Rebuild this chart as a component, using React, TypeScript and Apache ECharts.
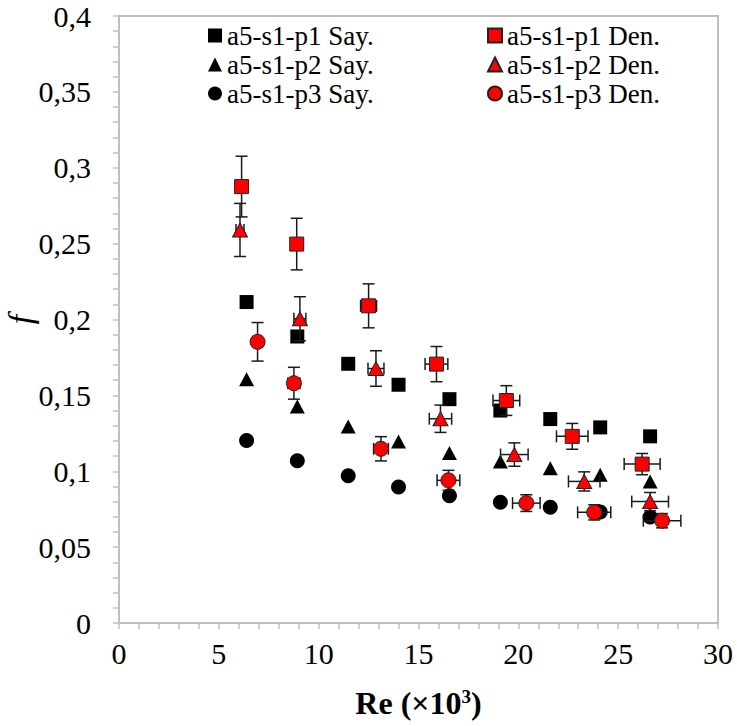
import React, { useEffect, useRef } from "react";
import * as echarts from "echarts";

const FONT = "Tinos, Liberation Serif, Times New Roman, serif";

// Sayısal (numerical) results
const sayRe = [6.39, 8.93, 11.48, 14.0, 16.55, 19.1, 21.6, 24.1, 26.6];
const p1Say = [0.2115, 0.1888, 0.1708, 0.157, 0.1475, 0.14, 0.1344, 0.1289, 0.123];
const p2Say = [0.1607, 0.1427, 0.1295, 0.1196, 0.112, 0.1065, 0.102, 0.0977, 0.0933];
const p3Say = [0.1203, 0.1069, 0.097, 0.0896, 0.0839, 0.0795, 0.0762, 0.0731, 0.0698];

// Deneysel (experimental) results with error bars
const p1DenRe = [6.14, 8.9, 12.5, 15.9, 19.4, 22.7, 26.2];
const p1Den = [0.2876, 0.2497, 0.209, 0.1706, 0.1466, 0.123, 0.1047];
const p1DenReErr = [0.2, 0.3, 0.4, 0.57, 0.67, 0.79, 0.9];
const p1DenErr = [0.02, 0.017, 0.0145, 0.0116, 0.0098, 0.0085, 0.007];

const p2DenRe = [6.06, 9.06, 12.87, 16.1, 19.8, 23.3, 26.6];
const p2Den = [0.259, 0.2005, 0.1677, 0.1346, 0.111, 0.0933, 0.08];
const p2DenReErr = [0.2, 0.3, 0.4, 0.56, 0.69, 0.79, 0.92];
const p2DenErr = [0.0175, 0.0145, 0.0117, 0.009, 0.0077, 0.0063, 0.006];

const p3DenRe = [6.94, 8.76, 13.12, 16.5, 20.4, 23.8, 27.2];
const p3Den = [0.1853, 0.158, 0.1148, 0.094, 0.079, 0.0729, 0.0674];
const p3DenReErr = [0.24, 0.3, 0.37, 0.57, 0.69, 0.83, 0.94];
const p3DenErr = [0.0127, 0.0105, 0.008, 0.0066, 0.0055, 0.005, 0.0047];

const sayNames = ["a5-s1-p1 Say.", "a5-s1-p2 Say.", "a5-s1-p3 Say."];
const denNames = ["a5-s1-p1 Den.", "a5-s1-p2 Den.", "a5-s1-p3 Den."];

const zip = (xs: number[], ys: number[]) => xs.map((x, i) => [x, ys[i]]);
const zip4 = (xs: number[], ys: number[], ex: number[], ey: number[]) =>
  xs.map((x, i) => [x, ys[i], ex[i], ey[i]]);

const CAP = 6;

function renderErr(params: any, api: any) {
  const x = api.value(0);
  const y = api.value(1);
  const ex = api.value(2);
  const ey = api.value(3);
  const top = api.coord([x, y + ey]);
  const bot = api.coord([x, y - ey]);
  const lft = api.coord([x - ex, y]);
  const rgt = api.coord([x + ex, y]);
  const style = { stroke: "#1a1a1a", lineWidth: 1.5 };
  const ln = (x1: number, y1: number, x2: number, y2: number) => ({
    type: "line",
    shape: { x1, y1, x2, y2 },
    style,
  });
  return {
    type: "group",
    children: [
      ln(top[0], top[1], bot[0], bot[1]),
      ln(top[0] - CAP, top[1], top[0] + CAP, top[1]),
      ln(bot[0] - CAP, bot[1], bot[0] + CAP, bot[1]),
      ln(lft[0], lft[1], rgt[0], rgt[1]),
      ln(lft[0], lft[1] - CAP, lft[0], lft[1] + CAP),
      ln(rgt[0], rgt[1] - CAP, rgt[0], rgt[1] + CAP),
    ],
  };
}

export default function App() {
  const ref = useRef<HTMLDivElement>(null);
  useEffect(() => {
    if (!ref.current) return;
    const chart = echarts.init(ref.current, null, { renderer: "svg" });
    const axisColor = "#bfbfbf";
    const blackStyle = { color: "#000000", opacity: 1 };
    const redStyle = { color: "#ff0000", borderColor: "#222222", borderWidth: 1, opacity: 1 };
    const legendCommon = {
      orient: "vertical",
      top: 22,
      itemWidth: 14,
      itemHeight: 14,
      itemGap: 2,
      padding: 0,
      selectedMode: false,
      textStyle: { fontFamily: FONT, fontSize: 27, lineHeight: 25, color: "#000" },
    };
    const labelRich = { t: { fontFamily: FONT, fontSize: 30, color: "#000" } };
    const option: any = {
      animation: false,
      backgroundColor: "#ffffff",
      textStyle: { fontFamily: FONT },
      grid: {
        left: 119,
        top: 16,
        right: 19,
        bottom: 103,
        show: true,
        borderColor: axisColor,
        borderWidth: 2,
        outerBoundsMode: "none",
        containLabel: false,
      },
      legend: [
        { ...legendCommon, data: sayNames, left: 208 },
        { ...legendCommon, data: denNames, left: 487 },
      ],
      xAxis: {
        type: "value",
        min: 0,
        max: 30,
        interval: 5,
        splitLine: { show: false },
        axisLine: { show: true, lineStyle: { color: axisColor, width: 2 } },
        axisTick: { show: true, length: 6, lineStyle: { color: axisColor, width: 1.5 } },
        minorTick: { show: true, splitNumber: 5, length: 6, lineStyle: { color: axisColor, width: 1.5 } },
        axisLabel: {
          margin: 15,
          fontFamily: FONT,
          fontSize: 30,
          color: "#000",
          formatter: (v: number) => `{t|${v}}`,
          rich: labelRich,
        },
        name: "{b|Re (×10}{s|3}{b|)}",
        nameLocation: "middle",
        nameGap: 64,
        nameMoveOverlap: false,
        nameTextStyle: {
          fontFamily: FONT,
          rich: {
            b: { fontFamily: FONT, fontSize: 32, fontWeight: "bold", color: "#000" },
            s: { fontFamily: FONT, fontSize: 19, fontWeight: "bold", color: "#000", verticalAlign: "top", padding: [0, 0, 13, 0] },
          },
        },
      },
      yAxis: {
        type: "value",
        min: 0,
        max: 0.4,
        interval: 0.05,
        splitLine: { show: false },
        axisLine: { show: true, lineStyle: { color: axisColor, width: 2 } },
        axisTick: { show: true, length: 6, lineStyle: { color: axisColor, width: 1.5 } },
        minorTick: { show: true, splitNumber: 5, length: 6, lineStyle: { color: axisColor, width: 1.5 } },
        axisLabel: {
          margin: 28,
          fontFamily: FONT,
          fontSize: 30,
          color: "#000",
          formatter: (v: number) => `{t|${String(+v.toFixed(2)).replace(".", ",")}}`,
          rich: labelRich,
        },
        name: "f",
        nameLocation: "middle",
        nameRotate: 90,
        nameGap: 82,
        nameMoveOverlap: false,
        nameTextStyle: { fontFamily: FONT, fontSize: 34, fontStyle: "italic", color: "#000" },
      },
      series: [
        { name: sayNames[0], type: "scatter", symbol: "rect", symbolSize: 14, itemStyle: blackStyle, data: zip(sayRe, p1Say), z: 2 },
        { name: sayNames[1], type: "scatter", symbol: "triangle", symbolSize: [15, 14], itemStyle: blackStyle, data: zip(sayRe, p2Say), z: 2 },
        { name: sayNames[2], type: "scatter", symbol: "circle", symbolSize: 15, itemStyle: blackStyle, data: zip(sayRe, p3Say), z: 2 },
        { type: "custom", renderItem: renderErr, data: zip4(p1DenRe, p1Den, p1DenReErr, p1DenErr), z: 3, silent: true },
        { type: "custom", renderItem: renderErr, data: zip4(p2DenRe, p2Den, p2DenReErr, p2DenErr), z: 3, silent: true },
        { type: "custom", renderItem: renderErr, data: zip4(p3DenRe, p3Den, p3DenReErr, p3DenErr), z: 3, silent: true },
        { name: denNames[0], type: "scatter", symbol: "rect", symbolSize: 14, itemStyle: redStyle, data: zip(p1DenRe, p1Den), z: 4 },
        { name: denNames[1], type: "scatter", symbol: "triangle", symbolSize: [15, 14], itemStyle: redStyle, data: zip(p2DenRe, p2Den), z: 4 },
        { name: denNames[2], type: "scatter", symbol: "circle", symbolSize: 15, itemStyle: redStyle, data: zip(p3DenRe, p3Den), z: 4 },
      ],
    };
    chart.setOption(option);
    return () => chart.dispose();
  }, []);
  return (
    <div
      ref={ref}
      style={{ position: "fixed", left: 0, top: 0, width: 737, height: 726, background: "#fff" }}
    />
  );
}
